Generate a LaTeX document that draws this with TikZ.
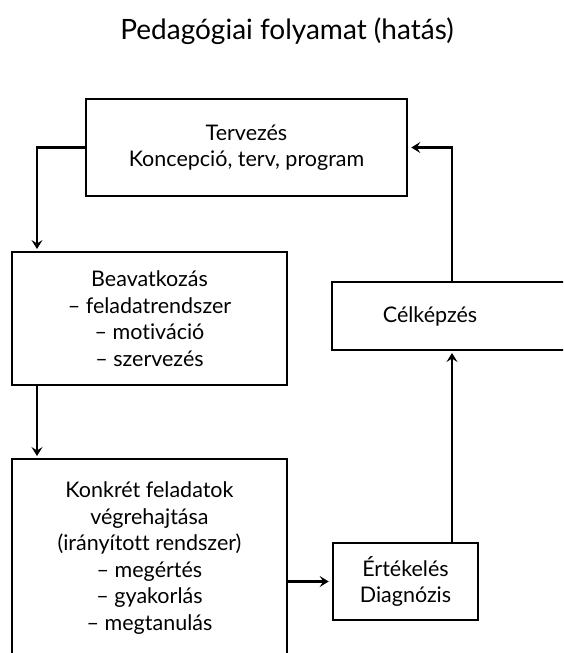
\documentclass[tikz,border=0pt]{standalone}
\usepackage{fontspec}
\setmainfont{Lato}[Ligatures=NoCommon]
\usetikzlibrary{arrows.meta,calc}
\begin{document}
\begin{tikzpicture}[x=1pt,y=-1pt,
  box/.style={draw,line width=2.6pt,align=center,font=\fontsize{21.5}{26.5}\selectfont,inner sep=0pt},
  conn/.style={line width=2.4pt,-{Stealth[length=9pt,width=11pt,inset=3.5pt]},shorten >=3pt},
  lbl/.style={align=center,font=\fontsize{21.5}{26.5}\selectfont,inner sep=0pt}]
\useasboundingbox (0,0) rectangle (563,653);
\clip (0,0) rectangle (563,653);
\node[font=\fontsize{28}{32}\selectfont,inner sep=0pt] (title) at (287,31) {Pedagógiai folyamat (hatás)};
\node[box,minimum width=321pt,minimum height=97pt] (terv) at (246.5,147.5) {Tervezés\\Koncepció, terv, program};
\node[box,minimum width=275pt,minimum height=133pt] (beav) at (149.5,318.5) {Beavatkozás\\– feladatrendszer\\– motiváció\\– szervezés};
\node[box,minimum width=275pt,minimum height=198pt] (konk) at (149.5,558) {Konkrét feladatok\\végrehajtása\\(irányított rendszer)\\– megértés\\– gyakorlás\\– megtanulás};
\node[box,minimum width=145pt,minimum height=77pt] (ert) at (405.5,581.5) {Értékelés\\Diagnózis};
\draw[line width=2.6pt] (332,282) rectangle (575,350);
\node[lbl] (cel) at (430,316) {Célképzés};
\coordinate (celtop) at (452,282);
\coordinate (celbot) at (452,350);
\coordinate (erttop) at (452,542.5);
\coordinate (beavin) at (37,252);
\coordinate (beavout) at (37,385);
\coordinate (konkin) at (37,459);
\draw[conn] (terv.west) -| (beavin);
\draw[conn] (beavout) -- (konkin);
\draw[conn] (konk.east |- ert.west) -- (ert.west);
\draw[conn] (erttop) -- (celbot);
\draw[conn] (celtop) |- (terv.east);
\end{tikzpicture}
\end{document}
